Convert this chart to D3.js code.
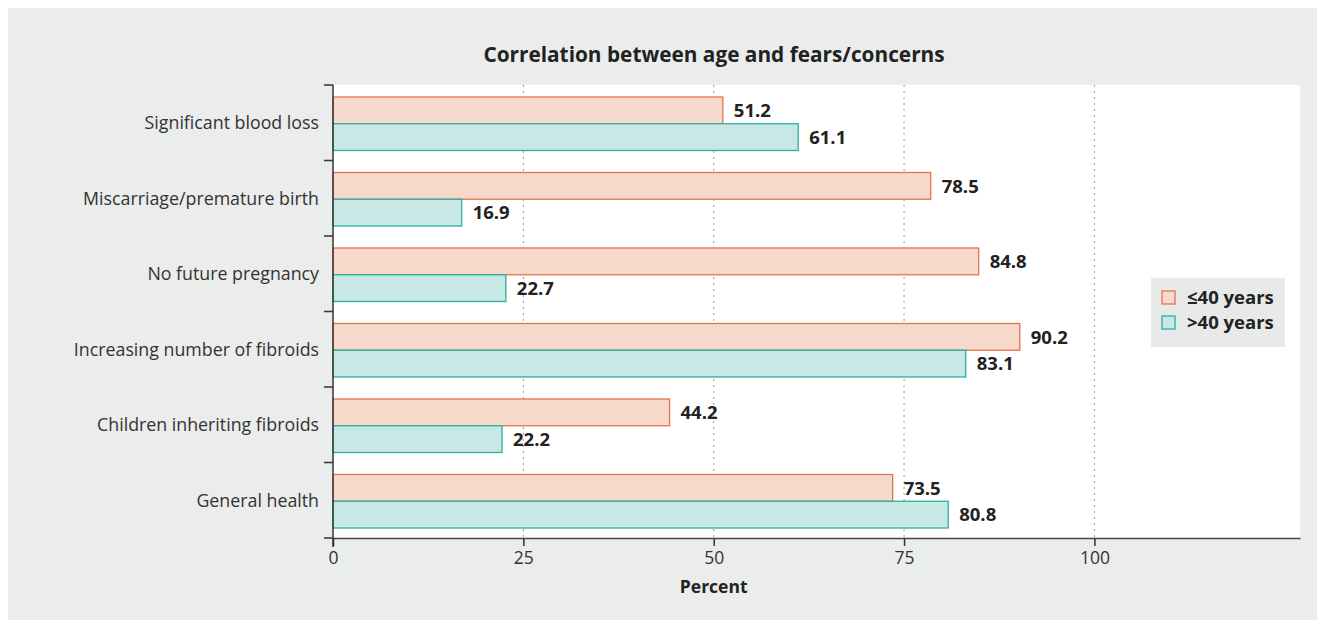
<!DOCTYPE html>
<html>
<head>
<meta charset="utf-8">
<script src="https://cdn.jsdelivr.net/npm/d3@7"></script>
<style>
  body { margin: 0; background: #fff; }
  svg { display: block; font-family: "Open Sans", "Noto Sans", sans-serif; }
</style>
</head>
<body>
<svg id="chart"></svg>
<script>
// data
const categories = [
  'Significant blood loss',
  'Miscarriage/premature birth',
  'No future pregnancy',
  'Increasing number of fibroids',
  'Children inheriting fibroids',
  'General health'
];
const seriesNames = ['≤40 years', '>40 years'];
const under40 = [51.2, 78.5, 84.8, 90.2, 44.2, 73.5];
const over40 = [61.1, 16.9, 22.7, 83.1, 22.2, 80.8];
const xTicks = [0, 25, 50, 75, 100];

const width = 1325, height = 621;
const margin = {top: 85, right: 26, bottom: 83, left: 333};
const innerW = 1300 - margin.left;
const innerH = 538 - margin.top;

const fills = ['#f6d9ca', '#c9e7e5'];
const strokes = ['#e5734f', '#28b0a4'];

const svg = d3.select('#chart')
  .attr('width', width)
  .attr('height', height);

// grey panel
svg.append('rect')
  .attr('x', 8).attr('y', 8)
  .attr('width', 1309).attr('height', 612)
  .attr('fill', '#ebecec');

const chart = svg.append('g')
  .attr('transform', `translate(${margin.left},${margin.top})`);

chart.append('rect')
  .attr('width', innerW).attr('height', innerH)
  .attr('fill', '#fff');

const xScale = d3.scaleLinear()
  .domain([0, 127])
  .range([0, innerW]);

const yScale = d3.scaleBand()
  .domain(categories)
  .range([0, innerH]);

const subScale = d3.scaleBand()
  .domain(seriesNames)
  .range([12, yScale.bandwidth() - 10]);

// dotted gridlines
chart.selectAll('.grid')
  .data(xTicks.filter(d => d > 0))
  .join('line')
  .attr('class', 'grid')
  .attr('x1', d => xScale(d)).attr('x2', d => xScale(d))
  .attr('y1', 0).attr('y2', innerH)
  .attr('stroke', '#9a9a9a')
  .attr('stroke-width', 1)
  .attr('stroke-dasharray', '2,4');

const rows = categories.map((c, i) => ({cat: c, vals: [under40[i], over40[i]]}));

const groups = chart.selectAll('.group')
  .data(rows)
  .join('g')
  .attr('class', 'group')
  .attr('transform', d => `translate(0,${yScale(d.cat)})`);

groups.selectAll('rect')
  .data(d => d.vals.map((v, j) => ({v, j})))
  .join('rect')
  .attr('x', 0)
  .attr('y', d => subScale(seriesNames[d.j]))
  .attr('width', d => xScale(d.v))
  .attr('height', subScale.bandwidth())
  .attr('fill', d => fills[d.j])
  .attr('stroke', d => strokes[d.j])
  .attr('stroke-width', 1.3);

groups.selectAll('.val')
  .data(d => d.vals.map((v, j) => ({v, j})))
  .join('text')
  .attr('class', 'val')
  .attr('x', d => xScale(d.v) + 11)
  .attr('y', d => subScale(seriesNames[d.j]) + subScale.bandwidth() / 2)
  .attr('dy', '0.36em')
  .attr('font-size', 18.5)
  .attr('font-weight', 'bold')
  .attr('fill', '#222')
  .text(d => d.v.toFixed(1));

// x axis
const xAxis = d3.axisBottom(xScale)
  .tickValues(xTicks)
  .tickSize(8)
  .tickPadding(6)
  .tickSizeOuter(0);

const xAxisG = chart.append('g')
  .attr('transform', `translate(0,${innerH})`)
  .call(xAxis);
xAxisG.select('.domain').attr('stroke', '#444').attr('stroke-width', 1.5);
xAxisG.selectAll('.tick line').attr('stroke', '#333').attr('stroke-width', 1.5);
xAxisG.selectAll('.tick text')
  .attr('font-size', 17.5)
  .attr('fill', '#333')
  .attr('font-family', '"Open Sans", "Noto Sans", sans-serif');

// y axis with ticks at category boundaries
chart.append('line')
  .attr('x1', 0).attr('x2', 0)
  .attr('y1', 0).attr('y2', innerH + 9)
  .attr('stroke', '#333').attr('stroke-width', 1.5);

const bounds = categories.map(c => yScale(c)).concat([innerH]);
chart.selectAll('.ytick')
  .data(bounds)
  .join('line')
  .attr('class', 'ytick')
  .attr('x1', -9).attr('x2', 0)
  .attr('y1', d => d).attr('y2', d => d)
  .attr('stroke', '#333').attr('stroke-width', 1.5);

chart.selectAll('.ylabel')
  .data(categories)
  .join('text')
  .attr('class', 'ylabel')
  .attr('x', -14)
  .attr('y', d => yScale(d) + subScale(seriesNames[1]) - 1)
  .attr('dy', '0.36em')
  .attr('text-anchor', 'end')
  .attr('font-size', 17.8)
  .attr('fill', '#333')
  .text(d => d);

// axis title
svg.append('text')
  .attr('x', margin.left + xScale(50))
  .attr('y', 593)
  .attr('text-anchor', 'middle')
  .attr('font-size', 17.5)
  .attr('font-weight', 'bold')
  .attr('fill', '#222')
  .text('Percent');

// chart title
svg.append('text')
  .attr('x', 714)
  .attr('y', 62)
  .attr('text-anchor', 'middle')
  .attr('font-size', 20.8)
  .attr('font-weight', 'bold')
  .attr('fill', '#222')
  .text('Correlation between age and fears/concerns');

// legend
const legend = svg.append('g')
  .attr('transform', 'translate(1151,278)');
legend.append('rect')
  .attr('width', 134).attr('height', 69)
  .attr('fill', '#e8e9e9');
seriesNames.forEach((name, j) => {
  legend.append('rect')
    .attr('x', 11).attr('y', 13 + j * 25)
    .attr('width', 13).attr('height', 13)
    .attr('fill', fills[j])
    .attr('stroke', strokes[j])
    .attr('stroke-width', 1.3);
  legend.append('text')
    .attr('x', 36).attr('y', 19.5 + j * 25)
    .attr('dy', '0.36em')
    .attr('font-size', 18.5)
    .attr('font-weight', 'bold')
    .attr('fill', '#222')
    .text(name);
});
</script>
</body>
</html>
